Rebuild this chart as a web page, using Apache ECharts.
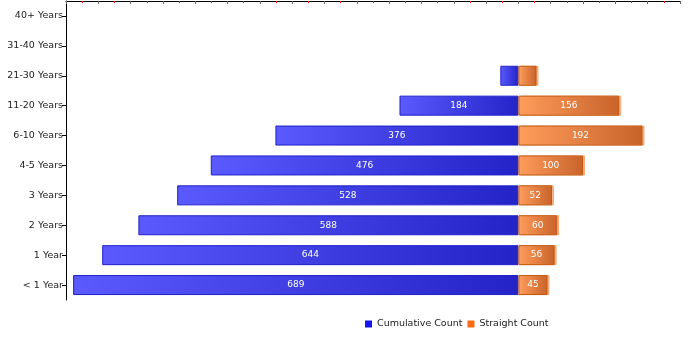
<!DOCTYPE html>
<html>
<head>
<meta charset="utf-8">
<script src="https://cdn.jsdelivr.net/npm/echarts@6/dist/echarts.min.js"></script>
<style>
  html, body { margin: 0; padding: 0; background: #fff; }
  #chart { width: 700px; height: 350px; }
</style>
</head>
<body>
<div id="chart"></div>
<script>
// Tenure bands, bottom to top
const categories = ['< 1 Year', '1 Year', '2 Years', '3 Years', '4-5 Years', '6-10 Years', '11-20 Years', '21-30 Years', '31-40 Years', '40+ Years'];
// Employees with at least this much tenure (drawn to the left of zero)
const cumulativeCount = [689, 644, 588, 528, 476, 376, 184, 28, 0, 0];
// Employees within each band (drawn to the right of zero)
const straightCount = [45, 56, 60, 52, 100, 192, 156, 28, 0, 0];

const FONT = 'DejaVu Sans';
const MIN_LABEL_VALUE = 40;

function hGrad(from, to) {
  return new echarts.graphic.LinearGradient(0, 0, 1, 0, [
    { offset: 0, color: from },
    { offset: 1, color: to }
  ]);
}

// empty bands get no bar at all (not even a border)
function toBars(values, sign) {
  return values.map(v => (v === 0 ? null : sign * v));
}

const barLabel = {
  show: true,
  position: 'inside',
  color: '#ffffff',
  fontFamily: FONT,
  fontSize: 9,
  formatter: p => {
    const v = Math.abs(p.value);
    return v >= MIN_LABEL_VALUE ? String(v) : '';
  }
};

const chart = echarts.init(document.getElementById('chart'), null, { renderer: 'canvas' });

chart.setOption({
  animation: false,
  grid: { left: 66, right: 20, top: 1, bottom: 50, containLabel: false },
  legend: {
    left: 360,
    top: 314,
    icon: 'rect',
    itemWidth: 7,
    itemHeight: 7,
    itemGap: 5,
    textStyle: { fontFamily: FONT, fontSize: 9.5, color: '#222' },
    data: [
      { name: 'Cumulative Count', itemStyle: { color: '#1414f5', borderWidth: 0, shadowBlur: 0, shadowOffsetX: 0 } },
      { name: 'Straight Count', itemStyle: { color: '#ff6a10', borderWidth: 0, shadowBlur: 0, shadowOffsetX: 0 } }
    ]
  },
  xAxis: {
    type: 'value',
    position: 'top',
    min: -700,
    max: 250,
    interval: 50,
    axisLine: { show: true, lineStyle: { color: '#000', width: 1 } },
    axisTick: { show: true, inside: true, length: 3, lineStyle: { color: '#666' } },
    minorTick: { show: true, splitNumber: 2, length: 2, lineStyle: { color: '#ff0000' } },
    axisLabel: { show: false },
    splitLine: { show: false }
  },
  yAxis: {
    type: 'category',
    data: categories,
    axisLine: { show: true, onZero: false, lineStyle: { color: '#000', width: 1 } },
    axisTick: { show: true, alignWithLabel: true, length: 4, lineStyle: { color: '#000' } },
    axisLabel: { fontFamily: FONT, fontSize: 9.5, color: '#222', margin: 3 }
  },
  series: [
    {
      name: 'Cumulative Count',
      type: 'bar',
      stack: 'tenure',
      barWidth: 20,
      data: toBars(cumulativeCount, -1),
      label: barLabel,
      itemStyle: {
        color: hGrad('#5a5aff', '#2323c8'),
        borderColor: '#2020cc',
        borderWidth: 1
      }
    },
    {
      name: 'Straight Count',
      type: 'bar',
      stack: 'tenure',
      barWidth: 20,
      data: toBars(straightCount, 1),
      label: barLabel,
      itemStyle: {
        color: hGrad('#ff9d5c', '#c8632a'),
        borderColor: '#c4580f',
        borderWidth: 1,
        shadowColor: 'rgba(240,160,110,0.8)',
        shadowOffsetX: 2,
        shadowBlur: 0
      }
    }
  ]
});
</script>
</body>
</html>
